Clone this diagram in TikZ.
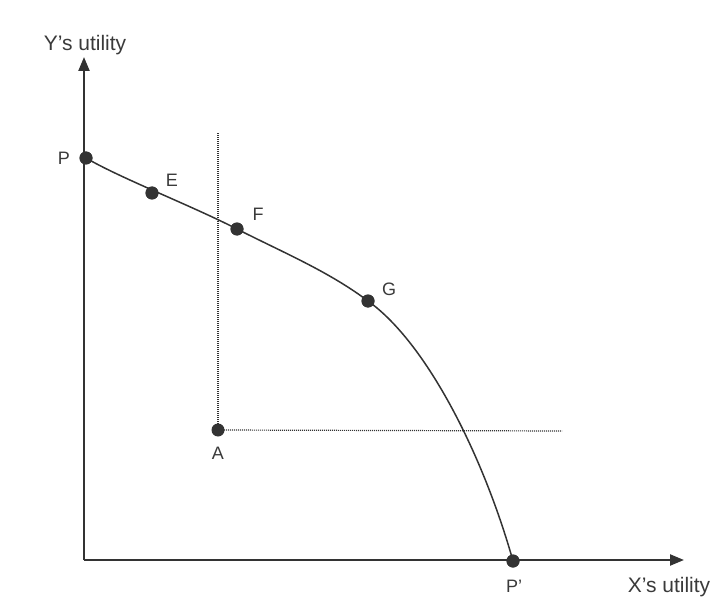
\documentclass[tikz,border=0pt]{standalone}
\usepackage{fontspec}
\setmainfont{Liberation Sans}
\usetikzlibrary{arrows.meta}
\definecolor{ink}{HTML}{333333}
\definecolor{txt}{HTML}{3A3A3A}
\begin{document}
\begin{tikzpicture}[x=1pt,y=-1pt,
  axis/.style={draw=ink,line width=2.2pt,-{Triangle[length=14pt,width=11pt]}},
  frontier/.style={draw=ink,line width=1.5pt},
  guide/.style={draw=ink,line width=1.2pt,dash pattern=on 1pt off 1pt},
  dot/.style={circle,fill=ink,inner sep=0pt,minimum size=13pt},
  lab/.style={text=txt,font=\fontsize{18}{18}\selectfont,inner sep=0pt},
  axlab/.style={text=txt,font=\fontsize{21}{21}\selectfont,inner sep=0pt}]
\useasboundingbox (0,0) rectangle (718,599);
\coordinate (O) at (84,560);
\coordinate (Ytip) at (84,57);
\coordinate (Xtip) at (684,560);
\coordinate (Atop) at (218,133);
\coordinate (Aend) at (562,431);
% axes
\draw[axis] (O) -- (Ytip);
\draw[axis] (O) -- (Xtip);
% points
\node[dot] (P) at (86,158) {};
\node[dot] (E) at (152,193) {};
\node[dot] (F) at (237,229) {};
\node[dot] (G) at (368,301) {};
\node[dot] (A) at (218,430) {};
\node[dot] (Pp) at (513,561) {};
% guides
\draw[guide] (A.center) -- (Atop);
\draw[guide] (A.center) -- (Aend);
% frontier
\draw[frontier] (P.center) .. controls (120,178) and (190,205) .. (F.center)
  .. controls (282,252) and (328,271) .. (G.center)
  .. controls (428,344) and (484,458) .. (Pp.center);
\foreach \n in {P,E,F,G,Pp} \node[dot] at (\n) {};
% labels
\node[lab] (lP) at (64,158) {P};
\node[lab] (lE) at (172,180) {E};
\node[lab] (lF) at (258,214) {F};
\node[lab] (lG) at (389,289) {G};
\node[lab] (lA) at (218,453) {A};
\node[lab] (lPp) at (514,586) {P'};
\node[axlab] (ly) at (85,45) {Y's utility};
\node[axlab] (lx) at (669,587) {X's utility};
\end{tikzpicture}
\end{document}
